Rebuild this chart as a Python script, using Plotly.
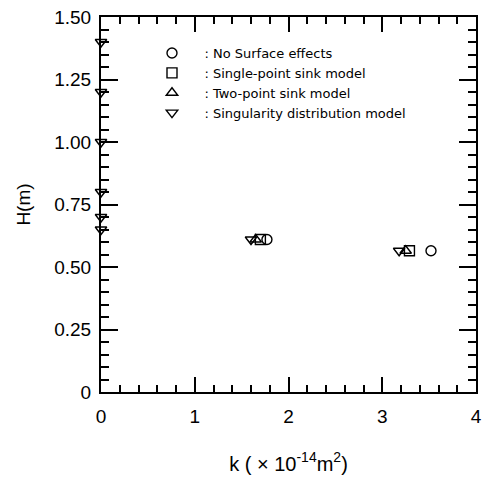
import plotly.graph_objects as go

# Data
k_axis0 = [0, 0, 0, 0, 0, 0]
H_axis0 = [1.40, 1.20, 1.00, 0.80, 0.70, 0.65]

k_no_surface = [1.77, 3.52]
H_no_surface = [0.61, 0.565]

k_single = [1.70, 3.29]
H_single = [0.61, 0.565]

k_two = [1.65, 3.25]
H_two = [0.61, 0.565]

k_sing_dist = [1.60, 3.18]
H_sing_dist = [0.61, 0.565]

series_names = [": No Surface effects", ": Single-point sink model",
                ": Two-point sink model", ": Singularity distribution model"]
symbols = ["circle-open", "square-open", "triangle-up-open", "triangle-down-open"]

y_tickvals = [0, 0.25, 0.5, 0.75, 1.0, 1.25, 1.5]
y_ticktext = ["0", "0.25", "0.50", "0.75", "1.00", "1.25", "1.50"]
x_tickvals = [0, 1, 2, 3, 4]
x_ticktext = ["0", "1", "2", "3", "4"]

font_family = "Liberation Sans, Arial, sans-serif"

fig = go.Figure()
data = [(k_no_surface, H_no_surface), (k_single, H_single),
        (k_two, H_two), (k_sing_dist, H_sing_dist)]
for (kx, hy), name, sym in zip(data, series_names, symbols):
    if sym == "triangle-down-open":
        kx = k_axis0 + kx
        hy = H_axis0 + hy
    fig.add_trace(go.Scatter(
        x=kx, y=hy, mode="markers", name="   " + name,
        marker=dict(symbol=sym, size=10, color="black", line=dict(width=1.4, color="black")),
        cliponaxis=False,
    ))

axis_common = dict(
    showgrid=False, zeroline=False, showline=True, linecolor="black", linewidth=2,
    mirror="ticks", ticks="inside", tickcolor="black", tickwidth=1.5,
    tickfont=dict(family=font_family, size=19, color="black"),
    ticklabeloverflow="allow",
)

fig.update_layout(
    width=485, height=478,
    margin=dict(l=101, r=3, t=17, b=86),
    paper_bgcolor="white", plot_bgcolor="white",
    font=dict(family=font_family, color="black"),
    showlegend=True,
    legend=dict(x=0.136, y=0.944, xanchor="left", yanchor="top",
                bgcolor="rgba(0,0,0,0)", font=dict(size=13, family="DejaVu Sans"),
                tracegroupgap=0, itemsizing="trace"),
    xaxis=dict(range=[0, 4], tickvals=x_tickvals, ticktext=x_ticktext, ticklen=15,
               ticklabelstandoff=6,
               minor=dict(dtick=0.2, ticks="inside", ticklen=7, tickcolor="black", tickwidth=1.5),
               title=dict(text="k ( × 10<sup>-14</sup>m<sup>2</sup>)", font=dict(size=20), standoff=31),
               **axis_common),
    yaxis=dict(range=[0, 1.5], tickvals=y_tickvals, ticktext=y_ticktext, ticklen=17,
               ticklabelstandoff=4,
               minor=dict(dtick=0.05, ticks="inside", ticklen=8, tickcolor="black", tickwidth=1.5),
               title=dict(text="H(m)", font=dict(size=19), standoff=19),
               **axis_common),
)

fig.write_html("out.html")
